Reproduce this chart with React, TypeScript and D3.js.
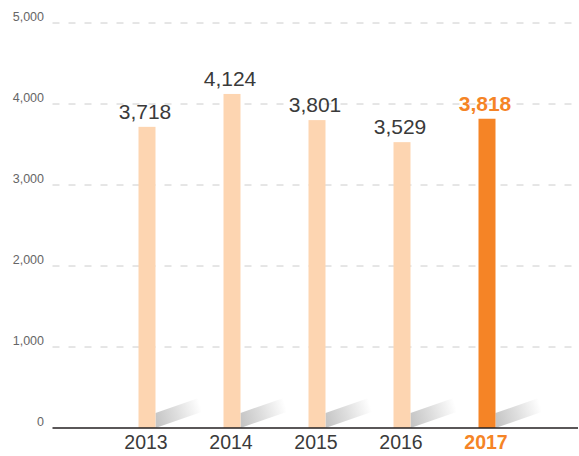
import React from "react";
import * as d3 from "d3";

const years = ["2013", "2014", "2015", "2016", "2017"];
const values = [3718, 4124, 3801, 3529, 3818];
const yTicks = [0, 1000, 2000, 3000, 4000, 5000];

const W = 579;
const H = 456;

export default function App() {
  const x = d3.scaleBand<string>().domain(years).range([104.5, 529.5]).paddingInner(0.8).paddingOuter(0.4);
  const y = d3.scaleLinear().domain([0, 5000]).range([428, 23]);
  const fmt = d3.format(",");
  const bw = 17;
  const base = y(0);
  return (
    <svg width={W} height={H} style={{ position: "absolute", left: 0, top: 0, fontFamily: "'Liberation Sans', Arial, sans-serif" }}>
      <defs>
        <linearGradient id="sh" x1="0" y1="0.6" x2="1" y2="0.4">
          <stop offset="0" stopColor="#c6c6c6" />
          <stop offset="0.45" stopColor="#dedede" />
          <stop offset="1" stopColor="#ffffff" />
        </linearGradient>
      </defs>
      {yTicks.filter((t) => t > 0).map((t) => (
        <line key={t} x1={52.5} x2={578} y1={y(t)} y2={y(t)} stroke="#cccccc" strokeWidth={1} strokeDasharray="7 9" />
      ))}
      {yTicks.map((t) => (
        <text key={t} x={44} y={y(t) - 2.5} textAnchor="end" fontSize={12.5} fill="#666666">
          {fmt(t)}
        </text>
      ))}
      {years.map((yr) => {
        const cx = (x(yr) as number) + x.bandwidth() / 2;
        const r = cx + bw / 2;
        return (
          <polygon
            key={"s" + yr}
            points={`${r},${base} ${r},${base - 15} ${r + 46},${base - 31} ${r + 46},${base - 16}`}
            fill="url(#sh)"
          />
        );
      })}
      {years.map((yr, i) => {
        const cx = (x(yr) as number) + x.bandwidth() / 2;
        const last = i === years.length - 1;
        return (
          <g key={yr}>
            <rect x={cx - bw / 2} y={y(values[i])} width={bw} height={base - y(values[i])} fill={last ? "#f58426" : "#fdd5b1"} />
            <text x={cx - 2} y={y(values[i]) - 8} textAnchor="middle" fontSize={21} fill={last ? "#f58426" : "#3a3a3a"} fontWeight={last ? "bold" : "normal"}>
              {fmt(values[i])}
            </text>
            <text x={cx - 1} y={449} textAnchor="middle" fontSize={19.5} fill={last ? "#f58426" : "#3a3a3a"} fontWeight={last ? "bold" : "normal"}>
              {yr}
            </text>
          </g>
        );
      })}
      <line x1={52.5} x2={578} y1={base} y2={base} stroke="#231f20" strokeWidth={1.5} />
    </svg>
  );
}
